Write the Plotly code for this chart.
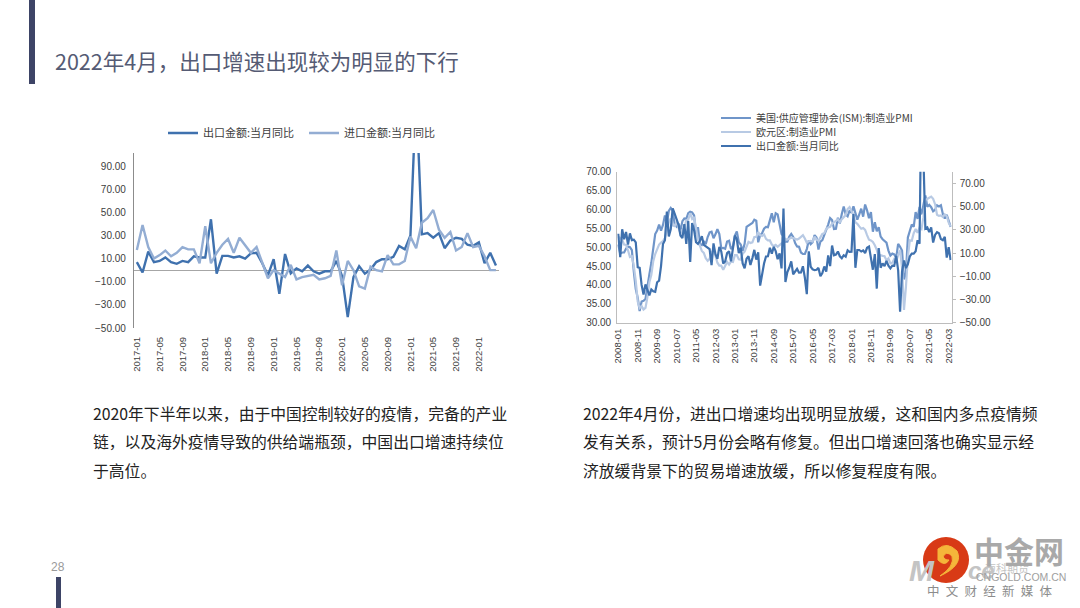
import plotly.graph_objects as go

W, H = 1080, 608
FONT = "Noto Sans CJK SC"
NUM = "Liberation Sans"

# ---------- data ----------
months_left = [f"{y}-{m:02d}" for y in range(2017, 2023) for m in range(1, 13)][:64]
months_right = [f"{y}-{m:02d}" for y in range(2008, 2023) for m in range(1, 13)][:172]

export_left = [
    7, -2, 16, 7, 8, 11, 7, 5.5, 8, 7, 12, 11,
    11, 44, -3, 12.4, 12.4, 11, 12, 10, 14.5, 15, 6, -4.5,
    9.5, -20.5, 14, -2.7, 1.5, -1, 4, -1, -3, -1, -1, 8,
    -5, -40.6, -6, 3.5, -3, 0.5, 7, 9.5, 9.5, 11.5, 21, 18,
    30, 154, 31, 32, 28, 32, 19, 25.6, 28, 27, 22, 21,
    24, 6, 15, 4,
]
import_left = [
    17.5, 39, 20, 10, 13, 17, 12, 15, 20, 18, 18, 6,
    38, 6, 15, 22, 27, 15, 28, 22, 15, 20, 6, -7,
    0, -3, -6, 4.6, -8, -6, -5, -4, -8, -7, -5, 17,
    -13, 8, 0, -14, -16, 3, 0, -1, 13, 5, 5, 8,
    29, 19, 41, 45, 52, 35, 28, 33, 17, 20, 32, 20,
    21, 12, 0, 0,
]
ism_pmi = [
    50.7, 48.3, 48.6, 48.6, 49.6, 50.2, 50.0, 49.2, 43.5, 38.9, 36.6, 33.1,
    35.6, 35.8, 36.3, 40.1, 42.8, 45.8, 49.9, 53.5, 54.4, 56.0, 54.4, 55.9,
    58.4, 56.5, 59.6, 60.4, 59.7, 56.2, 55.5, 56.3, 54.4, 56.9, 57.6, 57.5,
    59.0, 59.4, 59.2, 58.4, 53.5, 55.3, 50.9, 50.6, 51.6, 50.8, 52.7, 53.9,
    54.1, 52.4, 53.4, 54.8, 53.5, 49.7, 49.8, 49.6, 51.5, 51.7, 49.5, 50.2,
    53.1, 54.2, 51.3, 50.7, 49.0, 50.9, 55.4, 55.7, 56.2, 56.4, 57.3, 57.0,
    51.3, 53.2, 53.7, 54.9, 55.4, 55.3, 57.1, 59.0, 56.6, 59.0, 58.7, 55.5,
    53.5, 52.9, 51.5, 51.5, 52.8, 53.5, 52.7, 51.1, 50.2, 50.1, 48.6, 48.2,
    48.2, 49.5, 51.8, 50.8, 51.3, 53.2, 52.6, 49.4, 51.5, 51.9, 53.2, 54.7,
    56.0, 57.7, 57.2, 54.8, 54.9, 57.8, 56.3, 58.8, 60.8, 58.7, 58.2, 59.7,
    59.1, 60.8, 59.3, 57.3, 58.7, 60.2, 58.1, 61.3, 59.8, 57.7, 59.3, 54.1,
    56.6, 54.2, 55.3, 52.8, 52.1, 51.7, 51.2, 49.1, 47.8, 48.3, 48.1, 47.2,
    50.9, 50.1, 49.1, 41.5, 43.1, 52.6, 54.2, 56.0, 55.4, 59.3, 57.5, 60.7,
    58.7, 60.8, 63.7, 60.7, 61.2, 60.6, 59.5, 59.9, 61.1, 60.8, 61.1, 58.8,
    57.6, 58.6, 57.1, 55.4,
]
euro_pmi = [
    52.8, 52.3, 52.0, 50.7, 50.6, 49.2, 47.4, 47.6, 45.0, 41.1, 35.6, 33.9,
    34.4, 33.5, 33.9, 36.8, 40.7, 42.6, 46.3, 48.2, 49.3, 50.7, 51.2, 51.6,
    52.4, 54.2, 56.6, 57.6, 55.8, 55.6, 56.7, 55.1, 53.7, 54.6, 55.3, 57.1,
    57.3, 59.0, 57.5, 58.0, 54.6, 52.0, 50.4, 49.0, 48.5, 47.1, 46.4, 46.9,
    48.8, 49.0, 47.7, 45.9, 45.1, 45.1, 44.0, 45.1, 46.1, 45.4, 46.2, 46.1,
    47.9, 47.9, 46.8, 46.7, 48.3, 48.8, 50.3, 51.4, 51.1, 51.3, 52.7, 52.7,
    54.0, 53.2, 53.0, 53.4, 52.2, 51.8, 51.8, 50.7, 50.3, 50.6, 50.1, 50.6,
    51.0, 51.0, 52.2, 52.0, 52.2, 52.5, 52.4, 52.3, 52.0, 52.3, 52.8, 53.2,
    52.3, 51.2, 51.6, 51.7, 51.5, 52.8, 52.0, 51.7, 52.6, 53.5, 53.7, 54.9,
    55.2, 55.4, 56.2, 56.7, 57.0, 57.4, 56.6, 57.4, 58.1, 58.5, 60.1, 60.6,
    59.6, 58.6, 56.6, 56.2, 55.5, 54.9, 55.1, 54.6, 53.2, 52.0, 51.8, 51.4,
    50.5, 49.3, 47.5, 47.9, 47.7, 47.6, 46.5, 47.0, 45.7, 45.9, 46.9, 46.3,
    47.9, 49.2, 44.5, 33.4, 39.4, 47.4, 51.8, 51.7, 53.7, 54.8, 53.8, 55.2,
    54.8, 57.9, 62.5, 62.9, 63.1, 63.4, 62.8, 61.4, 58.6, 58.3, 58.4, 58.0,
    58.7, 58.2, 56.5, 55.5,
]
export_right = [
    26.6, 6.4, 30.4, 21.8, 28.1, 17.2, 26.9, 21.1, 21.5, 19.1, -2.2, -2.8,
    -17.5, -25.7, -17.1, -22.6, -26.4, -21.4, -23, -23.4, -15.2, -13.8, -1.2, 17.7,
    21, 45.7, 24.3, 30.4, 48.5, 43.9, 38, 34.3, 25.1, 22.8, 34.9, 17.9,
    37.6, 2.3, 35.8, 29.8, 19.3, 17.9, 20.3, 24.4, 17.1, 15.8, 13.8, 13.3,
    -0.5, 18.3, 8.9, 4.9, 15.3, 11.3, 1, 2.7, 9.9, 11.6, 2.9, 14.1,
    25, 21.8, 10, 14.7, 1, -3.1, 5.1, 7.2, -0.3, 5.6, 12.7, 4.3,
    10.6, -18.1, -6.6, 0.9, 7, 7.2, 14.5, 9.4, 15.3, 11.6, 4.7, 9.7,
    -3.3, 48.3, -15, -6.4, -2.5, 2.8, -8.3, -5.5, -3.7, -6.9, -6.8, -1.4,
    -11.2, -25.4, 11.5, -1.8, -4.1, -4.8, -4.4, -2.8, -10, -7.3, -1.6, -6.1,
    7.9, -1.3, 16.4, 8, 8.7, 11.3, 7.2, 5.5, 8.1, 6.9, 12.3, 10.9,
    11.1, 43.5, -2.7, 12.6, 12.6, 11.3, 12.2, 9.8, 14.5, 15.6, 5.4, -4.4,
    9.1, -20.7, 14.2, -2.7, 1.1, -1.3, 3.3, -1, -3.2, -0.9, -1.1, 7.6,
    -5, -40.6, -6, 3.5, -3, 0.5, 7, 9.5, 9.5, 11.5, 21, 18,
    154, 90, 31, 32, 28, 32, 19, 25.6, 28, 27, 22, 21,
    24, 6, 15, 4,
]
assert len(export_left) == len(import_left) == 64
assert len(ism_pmi) == len(euro_pmi) == len(export_right) == 172

left_ticks = months_left[::4]
right_ticks = months_right[::10]
left_y_ticks = [-50, -30, -10, 10, 30, 50, 70, 90]
right_y1_ticks = [30, 35, 40, 45, 50, 55, 60, 65, 70]
right_y2_ticks = [-50, -30, -10, 10, 30, 50, 70]

title_text = "2022年4月，出口增速出现较为明显的下行"
left_lines = ["2020年下半年以来，由于中国控制较好的疫情，完备的产业",
              "链，以及海外疫情导致的供给端瓶颈，中国出口增速持续位",
              "于高位。"]
right_lines = ["2022年4月份，进出口增速均出现明显放缓，这和国内多点疫情频",
               "发有关系，预计5月份会略有修复。但出口增速回落也确实显示经",
               "济放缓背景下的贸易增速放缓，所以修复程度有限。"]
n_export = "出口金额:当月同比"
n_import = "进口金额:当月同比"
n_ism = "美国:供应管理协会(ISM):制造业PMI"
n_euro = "欧元区:制造业PMI"


def px(x):
    return x / W


def py(y):
    return 1 - y / H


# ---------- traces ----------
fig = go.Figure()
C_EXP = "#3f71ae"
C_IMP = "#93add3"
C_ISM = "#6f95c9"
C_EUR = "#b8cae4"

fig.add_trace(go.Scatter(x=months_left, y=export_left, name=n_export, mode="lines",
                         line=dict(color=C_EXP, width=2.4), xaxis="x", yaxis="y", legend="legend"))
fig.add_trace(go.Scatter(x=months_left, y=import_left, name=n_import, mode="lines",
                         line=dict(color=C_IMP, width=2.4), xaxis="x", yaxis="y", legend="legend"))
fig.add_trace(go.Scatter(x=months_right, y=ism_pmi, name=n_ism, mode="lines",
                         line=dict(color=C_ISM, width=2.2), xaxis="x2", yaxis="y2", legend="legend2"))
fig.add_trace(go.Scatter(x=months_right, y=euro_pmi, name=n_euro, mode="lines",
                         line=dict(color=C_EUR, width=2.2), xaxis="x2", yaxis="y2", legend="legend3"))
fig.add_trace(go.Scatter(x=months_right, y=export_right, name=n_export, mode="lines",
                         line=dict(color=C_EXP, width=2.2), xaxis="x2", yaxis="y3", legend="legend4"))

# ---------- text ----------
ann = []


def text(t, x, y, size, color, font=FONT, anchor="left", **kw):
    ann.append(dict(text=t, x=px(x), y=py(y), xref="paper", yref="paper", showarrow=False,
                    xanchor=anchor, yanchor="middle", borderpad=0,
                    font=dict(size=size, color=color, family=font), **kw))


text(title_text, 54, 61, 21.5, "#555b74")
text("28", 50, 567, 12, "#9a9a9a", NUM)
for i, (y, l, r) in enumerate(zip([413, 441, 470], left_lines, right_lines)):
    text(l, 92, y, 15.8, "#222222")
    text(r, 582, y, 15.8, "#222222")

# watermark / logo text
text("<b><i>M</i></b>", 908, 570, 30, "#c4c4c4", NUM)
text("<b><i>ce</i></b>", 967, 570, 24, "#c4c4c4", NUM)
text("迈科期货", 984, 568, 11, "#c4c4c4")
text("<b>中金网</b>", 973, 550, 30, "#a9a9a9")
text("CNGOLD.COM.CN", 975, 577, 10.5, "#a0a0a0", NUM)
text("中\u2002文\u2002财\u2002经\u2002新\u2002媒\u2002体", 926, 590, 12.5, "#8c8c8c")

# ---------- decoration shapes ----------
BAR = "#3d4466"
shapes = [
    dict(type="rect", xref="paper", yref="paper", x0=px(29), x1=px(35), y0=py(84), y1=py(0),
         fillcolor=BAR, line_width=0, layer="below"),
    dict(type="rect", xref="paper", yref="paper", x0=px(56), x1=px(61), y0=py(608), y1=py(577),
         fillcolor=BAR, line_width=0, layer="below"),
    dict(type="circle", xref="paper", yref="paper", x0=px(923), x1=px(969), y0=py(583), y1=py(537),
         fillcolor="#d83a16", line_width=0),
    dict(type="path", xref="paper", yref="paper",
         path=(f"M {px(938)} {py(549)} Q {px(947)} {py(541)} {px(957)} {py(551)} "
               f"Q {px(964)} {py(565)} {px(940)} {py(576)} "
               f"Q {px(955)} {py(566)} {px(952)} {py(556)} "
               f"Q {px(946)} {py(550)} {px(943)} {py(557)} "
               f"Q {px(946)} {py(561)} {px(949)} {py(560)} "
               f"Q {px(945)} {py(567)} {px(938)} {py(560)} Z"),
         fillcolor="#f5b63a", line=dict(color="#f5b63a", width=1)),
]

AX = "#a6a6a6"
TICK = dict(family=NUM, size=10, color="#404040")
XT = dict(family=NUM, size=9.5, color="#404040")


def single_legend(y):
    return dict(orientation="v", x=px(716), y=py(y), xanchor="left", yanchor="middle",
                bgcolor="rgba(0,0,0,0)", itemwidth=30,
                font=dict(family=FONT, size=10, color="#404040"), itemclick=False)


fig.update_layout(
    width=W, height=H, autosize=False,
    margin=dict(l=0, r=0, t=0, b=0, pad=0, autoexpand=False),
    paper_bgcolor="#ffffff", plot_bgcolor="#ffffff",
    showlegend=True, annotations=ann, shapes=shapes,
    font=dict(family=FONT),
    legend=dict(orientation="h", x=px(163), y=py(133), xanchor="left", yanchor="middle",
                bgcolor="rgba(0,0,0,0)", itemwidth=30, entrywidth=96, entrywidthmode="pixels",
                font=dict(family=FONT, size=11, color="#404040"), itemclick=False),
    legend2=single_legend(118),
    legend3=single_legend(132),
    legend4=single_legend(146),
    xaxis=dict(domain=[px(134), px(498.8)], type="category", categoryorder="array",
               categoryarray=months_left, range=[-0.5, 63.5], anchor="y",
               tickmode="array", tickvals=left_ticks, ticktext=left_ticks, tickangle=-90,
               tickfont=XT, showgrid=False, showline=False, ticks="", ticklabelstandoff=6),
    yaxis=dict(domain=[py(328), py(153)], range=[-50, 101.3], anchor="x",
               tickmode="array", tickvals=left_y_ticks, tickformat=".2f", tickfont=TICK,
               showgrid=False, showline=True, linecolor="#8c8c8c", linewidth=1.2, ticks="",
               ticklabelstandoff=5, zeroline=True, zerolinecolor=AX, zerolinewidth=1.2),
    xaxis2=dict(domain=[px(617.3), px(951.6)], type="category", categoryorder="array",
                categoryarray=months_right, range=[-0.5, 171.5], anchor="y2",
                tickmode="array", tickvals=right_ticks, ticktext=right_ticks, tickangle=-90,
                tickfont=XT, showgrid=False, showline=True, linecolor="#bdbdbd", linewidth=1.2,
                ticks="", ticklabelstandoff=1),
    yaxis2=dict(domain=[py(322.7), py(171.7)], range=[30, 70], anchor="x2",
                tickmode="array", tickvals=right_y1_ticks, tickformat=".2f", tickfont=TICK,
                showgrid=False, showline=True, linecolor="#bdbdbd", linewidth=1.2, ticks="",
                ticklabelstandoff=3, zeroline=False),
    yaxis3=dict(domain=[py(322.7), py(171.7)], range=[-50, 80], anchor="x2", overlaying="y2",
                side="right", tickmode="array", tickvals=right_y2_ticks, tickformat=".2f",
                tickfont=TICK, showgrid=False, showline=True, linecolor="#bdbdbd", linewidth=1.2,
                ticks="outside", ticklen=3, tickcolor="#bdbdbd", ticklabelstandoff=2, zeroline=False),
)

fig.write_html("out.html", config={"displayModeBar": False},
               post_script="document.body.style.margin='0';document.body.style.overflow='hidden';")
